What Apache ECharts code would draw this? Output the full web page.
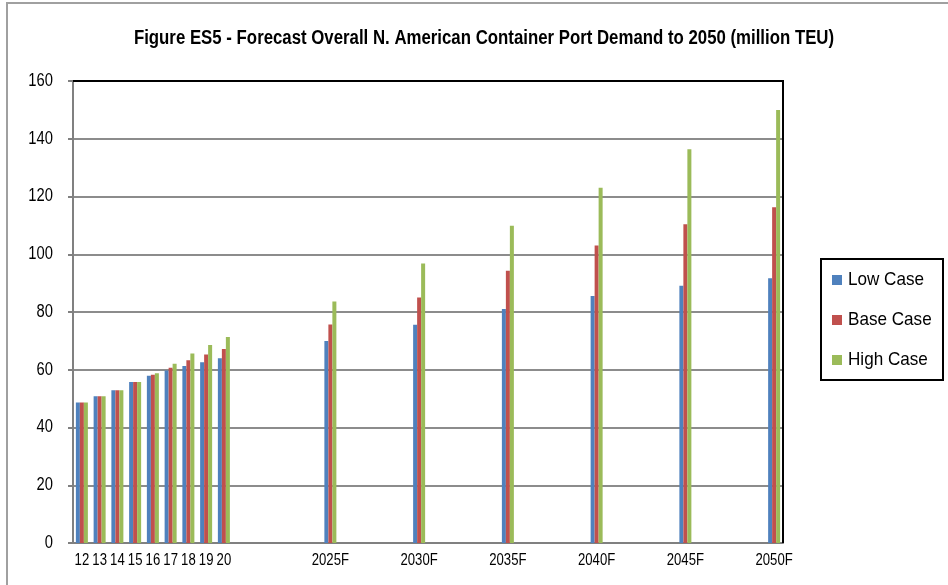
<!DOCTYPE html>
<html>
<head>
<meta charset="utf-8">
<script src="https://cdn.jsdelivr.net/npm/echarts@6/dist/echarts.min.js"></script>
<style>
  html, body { margin: 0; padding: 0; background: #fff; }
  #chart { width: 948px; height: 585px; }
</style>
</head>
<body>
<div id="chart"></div>
<script>
// Historical years (short labels) and forecast milestones
const histLabels = ['12', '13', '14', '15', '16', '17', '18', '19', '20'];
const histLow  = [48.7, 50.8, 52.9, 55.8, 57.9, 59.7, 61.3, 62.6, 64.0];
const histBase = [48.7, 50.8, 52.9, 55.8, 58.3, 60.7, 63.3, 65.3, 67.2];
const histHigh = [48.7, 50.8, 52.9, 55.8, 58.8, 62.1, 65.6, 68.6, 71.3];

const forecastLabels = ['2025F', '2030F', '2035F', '2040F', '2045F', '2050F'];
const forecastLow  = [70.0, 75.6, 81.0, 85.5, 89.1, 91.7];
const forecastBase = [75.7, 85.0, 94.3, 103.0, 110.4, 116.3];
const forecastHigh = [83.6, 96.8, 109.9, 123.0, 136.4, 150.0];

const yTicks = [0, 20, 40, 60, 80, 100, 120, 140, 160];
const seriesNames = ['Low Case', 'Base Case', 'High Case'];
const titleText = 'Figure ES5 - Forecast Overall N. American Container Port Demand to 2050 (million TEU)';

// Category slots: the historical years sit side by side, forecast years
// are spaced out with empty slots between them (five-year steps).
const categories = [];
const low = [], base = [], high = [];
histLabels.forEach((lab, i) => {
  categories.push(lab);
  low.push(histLow[i]); base.push(histBase[i]); high.push(histHigh[i]);
});
categories.push('');
low.push(null); base.push(null); high.push(null);
forecastLabels.forEach((lab, i) => {
  for (let k = 0; k < 4; k++) {
    categories.push('');
    low.push(null); base.push(null); high.push(null);
  }
  categories.push(lab);
  low.push(forecastLow[i]); base.push(forecastBase[i]); high.push(forecastHigh[i]);
});

const FONT = "'Liberation Sans', Arial, sans-serif";
const colors = ['#4F81BD', '#C0504D', '#9BBB59'];

const chart = echarts.init(document.getElementById('chart'), null, { renderer: 'canvas' });

const plotL = 73, plotT = 81, plotR = 783, plotB = 543;

chart.setOption({
  animation: false,
  backgroundColor: '#ffffff',
  color: colors,
  grid: { left: plotL, top: plotT, right: 948 - plotR, bottom: 585 - plotB, containLabel: false },
  xAxis: {
    type: 'category',
    data: categories,
    boundaryGap: true,
    axisLine: { show: true, lineStyle: { color: '#808080', width: 2 } },
    axisTick: { show: false },
    axisLabel: { show: false },
    splitLine: { show: false }
  },
  yAxis: {
    type: 'value',
    min: yTicks[0], max: yTicks[yTicks.length - 1], interval: yTicks[1] - yTicks[0],
    axisLine: { show: true, lineStyle: { color: '#808080', width: 2 } },
    axisTick: { show: true, inside: false, length: 5, lineStyle: { color: '#808080', width: 2 } },
    axisLabel: { show: false },
    splitLine: { show: true, lineStyle: { color: '#8c8c8c', width: 2 } }
  },
  series: [
    { name: seriesNames[0], type: 'bar', data: low,  barWidth: 4, barGap: '0%' },
    { name: seriesNames[1], type: 'bar', data: base, barWidth: 4, barGap: '0%' },
    { name: seriesNames[2], type: 'bar', data: high, barWidth: 4, barGap: '0%' }
  ]
});

// Condensed text: regular sans squeezed horizontally
function label(x, y, text, size, align, squeeze, weight) {
  return {
    type: 'text', silent: true, z: 20,
    x: x, y: y, scaleX: squeeze, scaleY: 1,
    style: {
      text: text, x: 0, y: 0,
      fontFamily: FONT, fontSize: size, fontWeight: weight || 'normal',
      fill: '#000',
      align: align, textAlign: align,
      verticalAlign: 'middle', textVerticalAlign: 'middle'
    }
  };
}

const graphics = [
  // outer frame of the figure
  { type: 'rect', silent: true, z: 0,
    shape: { x: 7, y: 3, width: 1000, height: 700 },
    style: { fill: null, stroke: '#a0a0a0', lineWidth: 2 } },
  // plot area top and right border
  { type: 'polyline', silent: true, z: 10,
    shape: { points: [[plotL, plotT], [plotR, plotT], [plotR, plotB]] },
    style: { fill: null, stroke: '#000', lineWidth: 2 } },
  // legend frame
  { type: 'rect', silent: true, z: 10,
    shape: { x: 821, y: 259, width: 122, height: 121 },
    style: { fill: null, stroke: '#000', lineWidth: 2 } },
  label(484, 38, titleText, 20, 'center', 0.84, 'bold')
];

// value-axis labels
yTicks.forEach(v => {
  const py = chart.convertToPixel({ yAxisIndex: 0 }, v);
  graphics.push(label(53, py, String(v), 18, 'right', 0.82));
});

// category-axis labels
categories.forEach((c, i) => {
  if (!c) return;
  const px = chart.convertToPixel({ xAxisIndex: 0 }, i);
  graphics.push(label(px, 561, c, 16, 'center', 0.82));
});

// legend
seriesNames.forEach((name, i) => {
  const cy = 280 + i * 40;
  graphics.push({ type: 'rect', silent: true, z: 20,
    shape: { x: 832, y: cy - 5, width: 10, height: 10 },
    style: { fill: colors[i] } });
  graphics.push(label(848, cy, name, 19, 'left', 0.9));
});

chart.setOption({ graphic: graphics });
</script>
</body>
</html>
